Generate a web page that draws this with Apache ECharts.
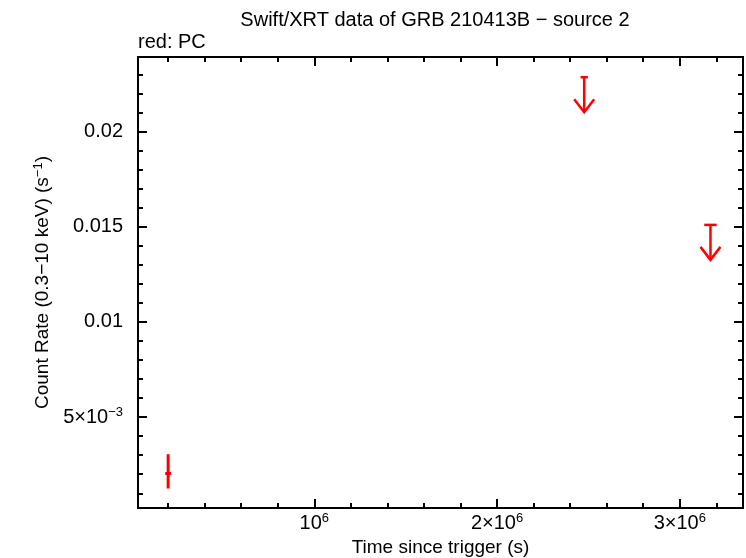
<!DOCTYPE html>
<html><head><meta charset="utf-8">
<script src="https://cdn.jsdelivr.net/npm/echarts@6/dist/echarts.min.js"></script>
<style>html,body{margin:0;padding:0;background:#fff}#c{width:746px;height:558px}</style>
</head><body><div id="c"></div>
<script>
// Detection (PC mode) with error bars
const detTime = [2.0e5];
const detTimeErr = [1.6e4];
const detRate = [0.00204];
const detRateLo = [0.00125];
const detRateHi = [0.00305];
// Upper limits (PC mode)
const ulTime = [2.477e6, 3.168e6];
const ulTimeErr = [2.0e4, 3.4e4];
const ulRate = [0.02286, 0.0151];
// Axis ticks
const xMajor = [1e6, 2e6, 3e6];
const xMinor = [2e5, 4e5, 6e5, 8e5, 1.2e6, 1.4e6, 1.6e6, 1.8e6, 2.2e6, 2.4e6, 2.6e6, 2.8e6, 3.2e6];
const yMajor = [0.005, 0.01, 0.015, 0.02];
const yMinor = [0.001, 0.002, 0.003, 0.004, 0.006, 0.007, 0.008, 0.009, 0.011, 0.012, 0.013, 0.014, 0.016, 0.017, 0.018, 0.019, 0.021, 0.022, 0.023];
const xLabels = {1e6: '10{sup|6}', 2e6: '2×10{sup|6}', 3e6: '3×10{sup|6}'};
const yLabels = {0.005: '5×10{sup|−3}', 0.01: '0.01', 0.015: '0.015', 0.02: '0.02'};

const xMin = 3.5e4, xMax = 3.346e6, yMin = 0.000226, yMax = 0.02392;
const FONT = 'Liberation Sans, Arial, Helvetica, sans-serif';
const FS = 20;
const richSup = {sup: {fontSize: 13, fontFamily: FONT, color: '#000', verticalAlign: 'top', padding: [0, 0, 9, 0]}};

function xAxisDef(pos, ticks, len, labels) {
  return {
    type: 'value', position: pos, min: xMin, max: xMax, gridIndex: 0,
    axisLine: {show: true, onZero: false, lineStyle: {color: '#000', width: 2}},
    axisTick: {show: true, inside: true, length: len, customValues: ticks, lineStyle: {color: '#000', width: 2}},
    axisLabel: labels ? {show: true, customValues: xMajor, margin: 4, fontSize: FS, fontFamily: FONT, color: '#000',
      formatter: v => xLabels[v] || '', rich: richSup} : {show: false},
    splitLine: {show: false},
    name: labels ? 'Time since trigger (s)' : '', nameLocation: 'middle', nameGap: 26,
    nameTextStyle: {fontSize: 19, fontFamily: FONT, color: '#000'}
  };
}
function yAxisDef(pos, ticks, len, labels) {
  return {
    type: 'value', position: pos, min: yMin, max: yMax, gridIndex: 0,
    axisLine: {show: true, onZero: false, lineStyle: {color: '#000', width: 2}},
    axisTick: {show: true, inside: true, length: len, customValues: ticks, lineStyle: {color: '#000', width: 2}},
    axisLabel: labels ? {show: true, customValues: yMajor, margin: 15, fontSize: FS, fontFamily: FONT, color: '#000',
      formatter: v => { for (const k in yLabels) { if (Math.abs(+k - v) < 1e-9) return yLabels[k]; } return ''; }, rich: richSup} : {show: false},
    splitLine: {show: false},
    name: labels ? 'Count Rate (0.3−10 keV) (s{sup|−1})' : '', nameLocation: 'middle', nameGap: 77,
    nameTextStyle: {fontSize: 19, fontFamily: FONT, color: '#000', rich: richSup}
  };
}

const chart = echarts.init(document.getElementById('c'), null, {renderer: 'canvas'});
chart.setOption({
  animation: false,
  backgroundColor: '#fff',
  title: [
    {text: 'Swift/XRT data of GRB 210413B − source 2', left: 435, top: 10, padding: 0, textAlign: 'center',
      textStyle: {fontSize: FS, fontWeight: 'normal', fontFamily: FONT, color: '#000'}},
    {text: 'red: PC', left: 138, top: 32, padding: 0, textStyle: {fontSize: FS, fontWeight: 'normal', fontFamily: FONT, color: '#000'}}
  ],
  grid: {left: 138, right: 3, top: 57, bottom: 50, containLabel: false, outerBoundsMode: 'none'},
  xAxis: [
    xAxisDef('bottom', xMajor, 9, true),
    xAxisDef('bottom', xMinor, 5, false),
    xAxisDef('top', xMajor, 9, false),
    xAxisDef('top', xMinor, 5, false)
  ],
  yAxis: [
    yAxisDef('left', yMajor, 9, true),
    yAxisDef('left', yMinor, 5, false),
    yAxisDef('right', yMajor, 9, false),
    yAxisDef('right', yMinor, 5, false)
  ],
  series: [
    {
      type: 'custom', xAxisIndex: 0, yAxisIndex: 0, clip: false,
      data: detTime.map((t, i) => [t, detRate[i], detTimeErr[i], detRateLo[i], detRateHi[i]]),
      renderItem: (params, api) => {
        const t = api.value(0), r = api.value(1), te = api.value(2), lo = api.value(3), hi = api.value(4);
        const pLo = api.coord([t, lo]), pHi = api.coord([t, hi]);
        const pL = api.coord([t - te, r]), pR = api.coord([t + te, r]);
        const st = {stroke: '#ff0000', fill: null};
        return {type: 'group', children: [
          {type: 'line', shape: {x1: pLo[0], y1: pLo[1], x2: pHi[0], y2: pHi[1]}, style: Object.assign({lineWidth: 3}, st)},
          {type: 'line', shape: {x1: pL[0], y1: pL[1], x2: pR[0], y2: pR[1]}, style: Object.assign({lineWidth: 3}, st)}
        ]};
      }
    },
    {
      type: 'custom', xAxisIndex: 0, yAxisIndex: 0, clip: false,
      data: ulTime.map((t, i) => [t, ulRate[i], ulTimeErr[i]]),
      renderItem: (params, api) => {
        const t = api.value(0), r = api.value(1), te = api.value(2);
        const p = api.coord([t, r]);
        const pL = api.coord([t - te, r]), pR = api.coord([t + te, r]);
        const len = 35, hw = 10, hh = 13;
        const st = {stroke: '#ff0000', fill: null, lineWidth: 2.5};
        return {type: 'group', children: [
          {type: 'line', shape: {x1: pL[0], y1: p[1], x2: pR[0], y2: p[1]}, style: st},
          {type: 'line', shape: {x1: p[0], y1: p[1], x2: p[0], y2: p[1] + len}, style: st},
          {type: 'polyline', shape: {points: [[p[0] - hw, p[1] + len - hh], [p[0], p[1] + len], [p[0] + hw, p[1] + len - hh]]}, style: st}
        ]};
      }
    }
  ]
});
</script>
</body></html>
